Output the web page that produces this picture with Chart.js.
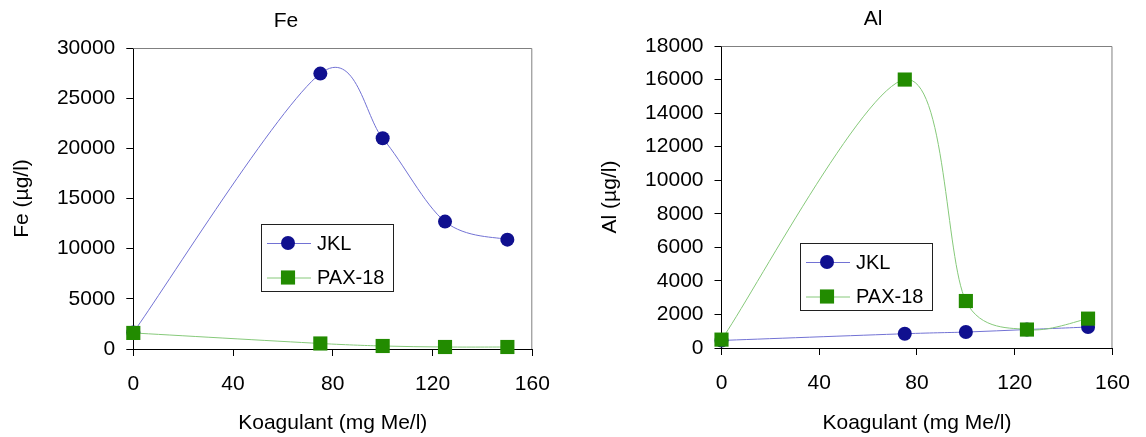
<!DOCTYPE html>
<html>
<head>
<meta charset="utf-8">
<title>Fe / Al</title>
<script src="https://cdn.jsdelivr.net/npm/chart.js@4.4.1/dist/chart.umd.min.js"></script>
<style>
  html, body { margin: 0; padding: 0; background: #fff; }
  .row { display: flex; width: 1146px; height: 437px; }
  .panel { position: relative; width: 573px; height: 437px; }
</style>
</head>
<body>
<div class="row">
  <div class="panel"><canvas id="feChart"></canvas></div>
  <div class="panel"><canvas id="alChart"></canvas></div>
</div>
<script>
// koagulant dose (mg Me/l)
const doses = [0, 75, 100, 125, 150];

// Fe (µg/l)
const feJKL = [1650, 27450, 21000, 12700, 10900];
const fePAX = [1600, 550, 300, 200, 200];

// Al (µg/l)
const alJKL = [450, 850, 950, 1100, 1250];
const alPAX = [500, 16000, 2800, 1100, 1750];

const seriesNames = ['JKL', 'PAX-18'];
const xTicks = [0, 40, 80, 120, 160];
const feTicks = [0, 5000, 10000, 15000, 20000, 25000, 30000];
const alTicks = [0, 2000, 4000, 6000, 8000, 10000, 12000, 14000, 16000, 18000];

const FONT = '"Liberation Sans", Arial, sans-serif';

// gray top / right edge of the plot area
const framePlugin = {
  id: 'frame',
  beforeDatasetsDraw(chart) {
    const { ctx, chartArea: a } = chart;
    ctx.save();
    ctx.strokeStyle = '#808080';
    ctx.lineWidth = 1;
    ctx.beginPath();
    ctx.moveTo(a.left, a.top + 0.5);
    ctx.lineTo(a.right - 0.5, a.top + 0.5);
    ctx.lineTo(a.right - 0.5, a.bottom);
    ctx.stroke();
    ctx.restore();
  }
};

// spreadsheet-style smoothing: handles 1/6 of the neighbour span,
// capped at half the segment length
function dist(a, b) { return Math.hypot(b.x - a.x, b.y - a.y); }

const smoothPlugin = {
  id: 'smooth',
  beforeDatasetsDraw(chart) {
    chart.getSortedVisibleDatasetMetas().forEach((meta) => {
      meta.dataset.updateControlPoints(chart.chartArea, meta.indexAxis);
      const pts = meta.data;
      for (let i = 0; i < pts.length - 1; i++) {
        const p0 = pts[i - 1] || pts[i], p1 = pts[i], p2 = pts[i + 1], p3 = pts[i + 2] || pts[i + 1];
        const d02 = dist(p0, p2), d12 = dist(p1, p2), d13 = dist(p1, p3);
        const cap1 = d02 / 6 >= d12 / 2, cap2 = d13 / 6 >= d12 / 2;
        let f1 = 1 / 6, f2 = 1 / 6;
        if (cap1 && cap2) { f1 = d12 / 2 / d02; f2 = d12 / 2 / d13; }
        else if (cap1) { f1 = d12 / 2 / d02; f2 = f1; }
        else if (cap2) { f2 = d12 / 2 / d13; f1 = f2; }
        p1.cp2x = p1.x + f1 * (p2.x - p0.x);
        p1.cp2y = p1.y + f1 * (p2.y - p0.y);
        p2.cp1x = p2.x - f2 * (p3.x - p1.x);
        p2.cp1y = p2.y - f2 * (p3.y - p1.y);
      }
    });
  }
};

// chart title centred on a given x (not the plot)
const panelTitle = {
  id: 'panelTitle',
  afterDraw(chart, args, opts) {
    const { ctx } = chart;
    ctx.save();
    ctx.font = '21px ' + FONT;
    ctx.fillStyle = '#000';
    ctx.textAlign = 'center';
    ctx.textBaseline = 'middle';
    ctx.fillText(opts.text, opts.x, opts.y);
    ctx.restore();
  }
};

function drawMarker(ctx, style, x, y, r, color) {
  ctx.fillStyle = color;
  ctx.beginPath();
  if (style === 'rect') {
    const s = r * Math.SQRT1_2;
    ctx.rect(x - s, y - s, 2 * s, 2 * s);
  } else {
    ctx.arc(x, y, r, 0, Math.PI * 2);
  }
  ctx.fill();
}

// boxed legend sitting inside the plot
const boxLegend = {
  id: 'boxLegend',
  afterDatasetsDraw(chart, args, opts) {
    const { ctx } = chart;
    const x = opts.x, y = opts.y, w = 132, h = 67;
    ctx.save();
    ctx.fillStyle = '#fff';
    ctx.fillRect(x, y, w, h);
    ctx.strokeStyle = '#202020';
    ctx.lineWidth = 1;
    ctx.strokeRect(x + 0.5, y + 0.5, w, h);
    ctx.font = '20px ' + FONT;
    ctx.textBaseline = 'middle';
    chart.data.datasets.forEach((ds, i) => {
      const ry = y + 19 + i * 34.5;
      ctx.strokeStyle = ds.borderColor;
      ctx.beginPath();
      ctx.moveTo(x + 6, ry + 0.5);
      ctx.lineTo(x + 50, ry + 0.5);
      ctx.stroke();
      drawMarker(ctx, ds.pointStyle, x + 27, ry, ds.pointRadius, ds.pointBackgroundColor);
      ctx.fillStyle = '#000';
      ctx.fillText(ds.label, x + 56, ry + 1);
    });
    ctx.restore();
  }
};

function series(label, xs, ys, line, fill, style, radius, order) {
  return {
    label: label,
    data: xs.map((x, i) => ({ x: x, y: ys[i] })),
    borderColor: line,
    borderWidth: 1,
    pointStyle: style,
    pointRadius: radius,
    pointBackgroundColor: fill,
    pointBorderWidth: 0,
    tension: 0.4,
    clip: false,
    order: order
  };
}

function makeChart(id, title, yTitle, jkl, pax, yTicks, geo) {
  return new Chart(document.getElementById(id), {
    type: 'line',
    data: {
      datasets: [
        series(seriesNames[0], doses, jkl, '#7272d4', '#10108f', 'circle', 7, 1),
        series(seriesNames[1], doses, pax, '#86c97a', '#228b00', 'rect', 10, 0)
      ]
    },
    options: {
      responsive: true,
      maintainAspectRatio: false,
      animation: false,
      events: [],
      layout: { padding: { top: geo.top, right: geo.right, left: 0, bottom: 0 } },
      plugins: {
        legend: { display: false },
        tooltip: { enabled: false },
        panelTitle: { text: title, x: geo.titleX, y: geo.titleY },
        boxLegend: { x: geo.legendX, y: geo.legendY }
      },
      scales: {
        x: {
          type: 'linear',
          min: xTicks[0],
          max: xTicks[xTicks.length - 1],
          afterFit: (s) => { s.height = geo.xHeight; },
          ticks: {
            stepSize: xTicks[1] - xTicks[0],
            color: '#000',
            padding: 16,
            maxRotation: 0,
            callback: (v) => String(v),
            font: { family: FONT, size: 21 }
          },
          grid: { drawOnChartArea: false, drawTicks: true, tickLength: 7, color: '#000' },
          border: { display: true, color: '#000', width: 1 },
          title: {
            display: true,
            text: 'Koagulant (mg Me/l)',
            color: '#000',
            padding: { top: 0, bottom: 1.5 },
            font: { family: FONT, size: 21 }
          }
        },
        y: {
          min: yTicks[0],
          max: yTicks[yTicks.length - 1],
          afterFit: (s) => { s.width = geo.yWidth; },
          ticks: {
            stepSize: yTicks[1] - yTicks[0],
            color: '#000',
            padding: 11,
            callback: (v) => String(v),
            font: { family: FONT, size: 21 }
          },
          grid: { drawOnChartArea: false, drawTicks: true, tickLength: 7, color: '#000' },
          border: { display: true, color: '#000', width: 1 },
          title: {
            display: true,
            text: yTitle,
            color: '#000',
            padding: { top: geo.yTitlePad, bottom: 0 },
            font: { family: FONT, size: 21 }
          }
        }
      }
    },
    plugins: [framePlugin, smoothPlugin, boxLegend, panelTitle]
  });
}

makeChart('feChart', 'Fe', 'Fe (µg/l)', feJKL, fePAX, feTicks, {
  top: 48, right: 40.7, yWidth: 133.3, xHeight: 88, yTitlePad: 9.4,
  titleX: 286, titleY: 21, legendX: 261, legendY: 224
});

makeChart('alChart', 'Al', 'Al (µg/l)', alJKL, alPAX, alTicks, {
  top: 46, right: 23, yWidth: 148.5, xHeight: 89, yTitlePad: 24.4,
  titleX: 300, titleY: 19.5, legendX: 227, legendY: 243
});
</script>
</body>
</html>
